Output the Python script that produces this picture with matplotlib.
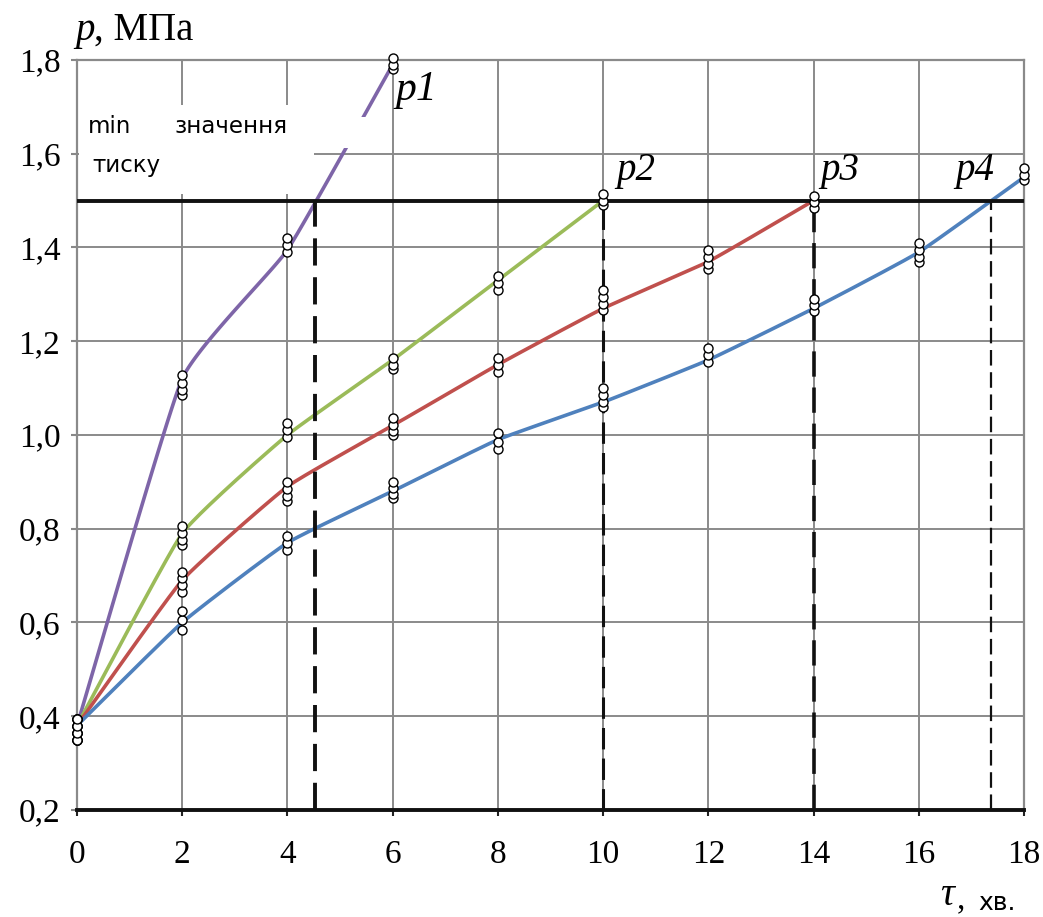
import numpy as np
import matplotlib
matplotlib.use("Agg")
import matplotlib.pyplot as plt
from matplotlib.patches import Rectangle

# ---------------- data ----------------
tau_p1 = [0, 2, 4, 6]
tau_p2 = [0, 2, 4, 6, 8, 10]
tau_p3 = [0, 2, 4, 6, 8, 10, 12, 14]
tau_p4 = [0, 2, 4, 6, 8, 10, 12, 14, 16, 18]

# fitted (mean) curves
p1 = [0.38, 1.12, 1.395, 1.79]
p2 = [0.38, 0.79, 1.00, 1.16, 1.33, 1.50]
p3 = [0.38, 0.69, 0.89, 1.02, 1.15, 1.27, 1.37, 1.50]
p4 = [0.38, 0.60, 0.77, 0.88, 0.99, 1.07, 1.16, 1.27, 1.39, 1.55]

# replicate measurements (open circles)
rep_p1 = [[0.35, 0.365, 0.38, 0.395], [1.085, 1.097, 1.11, 1.127],
          [1.39, 1.405, 1.42], [1.78, 1.79, 1.805]]
rep_p2 = [[0.35, 0.365, 0.38, 0.395], [0.765, 0.775, 0.79, 0.805],
          [0.995, 1.01, 1.025], [1.14, 1.15, 1.165],
          [1.31, 1.325, 1.34], [1.49, 1.50, 1.515]]
rep_p3 = [[0.35, 0.365, 0.38, 0.395], [0.666, 0.68, 0.695, 0.708],
          [0.86, 0.87, 0.885, 0.90], [0.999, 1.008, 1.022, 1.037],
          [1.135, 1.15, 1.165], [1.267, 1.28, 1.295, 1.31],
          [1.354, 1.365, 1.38, 1.394], [1.485, 1.497, 1.51]]
rep_p4 = [[0.35, 0.365, 0.38, 0.395], [0.585, 0.605, 0.624],
          [0.755, 0.77, 0.785], [0.866, 0.875, 0.887, 0.90],
          [0.97, 0.985, 1.005], [1.06, 1.07, 1.085, 1.10],
          [1.155, 1.17, 1.185], [1.265, 1.277, 1.29],
          [1.37, 1.38, 1.395, 1.41], [1.545, 1.555, 1.57]]

series_labels = ["p1", "p2", "p3", "p4"]
p_min = 1.5
tau_reach = [4.52, 10.0, 14.0, 17.38]

x_ticks = [0, 2, 4, 6, 8, 10, 12, 14, 16, 18]
y_ticks = [0.2, 0.4, 0.6, 0.8, 1.0, 1.2, 1.4, 1.6, 1.8]
y_tick_labels = ["0,2", "0,4", "0,6", "0,8", "1,0", "1,2", "1,4", "1,6", "1,8"]

colors = ["#7E65A8", "#9BBB59", "#C0504D", "#4F81BD"]


def smooth(x, y, n=40, c=0.4):
    """Low-tension cardinal Hermite curve through the points."""
    x = np.asarray(x, float)
    y = np.asarray(y, float)
    P = np.column_stack([x, y])
    m = np.zeros_like(P)
    m[1:-1] = c * (P[2:] - P[:-2]) / 2.0
    m[0] = c * (P[1] - P[0])
    m[-1] = c * (P[-1] - P[-2])
    t = np.linspace(0, 1, n)[:, None]
    h00 = 2 * t**3 - 3 * t**2 + 1
    h10 = t**3 - 2 * t**2 + t
    h01 = -2 * t**3 + 3 * t**2
    h11 = t**3 - t**2
    out = []
    for i in range(len(P) - 1):
        seg = h00 * P[i] + h10 * m[i] + h01 * P[i + 1] + h11 * m[i + 1]
        out.append(seg if i == 0 else seg[1:])
    out = np.vstack(out)
    return out[:, 0], out[:, 1]


fig = plt.figure(figsize=(10.43, 9.17), dpi=100)
ax = fig.add_axes([0.0738, 0.1167, 0.9080, 0.8179])

serif = "Liberation Serif"

ax.set_xlim(0, 18)
ax.set_ylim(0.2, 1.8)
ax.set_xticks(x_ticks)
ax.set_xticklabels([str(v) for v in x_ticks], fontfamily=serif, fontsize=24)
ax.set_yticks(y_ticks)
ax.set_yticklabels(y_tick_labels, fontfamily=serif, fontsize=24)
ax.tick_params(axis="x", length=4, width=1.5, pad=17, color="#222222")
ax.tick_params(axis="y", length=4, width=1.5, pad=8, color="#888888")

ax.grid(True, color="#8a8a8a", linewidth=1.4, zorder=0)
ax.set_axisbelow(True)
for s in ["left", "top", "right"]:
    ax.spines[s].set_color("#8a8a8a")
    ax.spines[s].set_linewidth(1.6)
ax.spines["bottom"].set_color("#111111")
ax.spines["bottom"].set_linewidth(2.8)

# white patch behind the annotation text
ax.add_patch(Rectangle((0.04, 1.515), 4.46, 0.19, facecolor="white",
                       edgecolor="none", zorder=1))

taus = [tau_p1, tau_p2, tau_p3, tau_p4]
vals = [p1, p2, p3, p4]
reps = [rep_p1, rep_p2, rep_p3, rep_p4]

for tx, vy, col in zip(taus, vals, colors):
    sx, sy = smooth(tx, vy)
    ax.plot(sx, sy, color=col, linewidth=2.6, zorder=3, solid_capstyle="round")

# gap in the purple line under the text box
ax.add_patch(Rectangle((4.9, 1.612), 0.7, 0.066, facecolor="white",
                       edgecolor="none", zorder=3.5))

# minimum pressure line
ax.axhline(p_min, color="#111111", linewidth=2.8, zorder=4)

# dashed verticals at the time the minimum is reached
dash_lw = [2.8, 2.2, 2.6, 1.6]
for xr, lw in zip(tau_reach, dash_lw):
    ax.plot([xr, xr], [0.2, p_min], color="#111111", linewidth=lw,
            dashes=(7, 3), zorder=4)

for tx, rp in zip(taus, reps):
    for xv, ys in zip(tx, rp):
        ax.plot([xv] * len(ys), ys, linestyle="none", marker="o",
                markersize=6.5, markerfacecolor="white",
                markeredgecolor="black", markeredgewidth=1.0, zorder=5,
                clip_on=False)

# curve labels
ax.text(6.05, 1.715, series_labels[0], fontfamily=serif, style="italic",
        fontsize=30, zorder=6)
ax.text(10.25, 1.545, series_labels[1], fontfamily=serif, style="italic",
        fontsize=28, zorder=6)
ax.text(14.12, 1.545, series_labels[2], fontfamily=serif, style="italic",
        fontsize=28, zorder=6)
ax.text(16.7, 1.545, series_labels[3], fontfamily=serif, style="italic",
        fontsize=28, zorder=6)

# annotation "min значення тиску"
ann_font = "DejaVu Sans"
ax.text(0.21, 1.644, "min", fontfamily=ann_font, fontsize=16.5, zorder=6)
ax.text(1.86, 1.644, "значення", fontfamily=ann_font, fontsize=16.5, zorder=6)
ax.text(0.30, 1.561, "тиску", fontfamily=ann_font, fontsize=16.5, zorder=6)

# axis titles
fig.text(75 / 1043, 1 - 40 / 917, "p", fontfamily=serif, style="italic",
         fontsize=28)
fig.text(94 / 1043, 1 - 40 / 917, ", МПа", fontfamily=serif, fontsize=28)
fig.text(940 / 1043, 1 - 905 / 917, "τ", fontfamily=serif, style="italic",
         fontsize=28)
fig.text(957 / 1043, 1 - 908 / 917, ",", fontfamily=serif, fontsize=24)
fig.text(978 / 1043, 1 - 910 / 917, "хв.", fontfamily="DejaVu Sans",
         fontsize=18)

fig.savefig("out.png", dpi=100, facecolor="white")
